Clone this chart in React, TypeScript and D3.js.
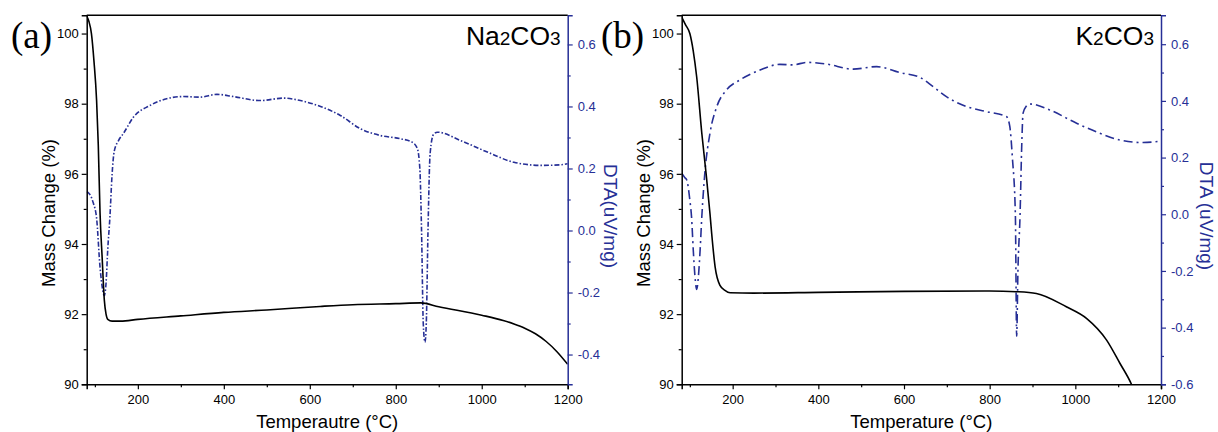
import React, { useRef, useEffect } from "react";
import * as d3 from "d3";

const WIDTH = 1218;
const HEIGHT = 432;

// x ticks (temperature, °C)
const tempTicks = [200, 400, 600, 800, 1000, 1200];
const tempMinor = [100, 300, 500, 700, 900, 1100];
const massTicks = [90, 92, 94, 96, 98, 100];
const massMinor = [91, 93, 95, 97, 99];

// (a) Na2CO3 - mass change
const naMassT = [81, 86, 92, 98, 104, 108, 112, 117, 122, 126, 130, 140, 160, 200, 300, 400, 500, 624, 700, 800, 858, 900, 1000, 1050, 1075, 1100, 1125, 1150, 1175, 1200];
const naMass = [100.5, 100.35, 100.0, 99.2, 98.1, 96.8, 94.9, 93.6, 92.4, 92.0, 91.85, 91.8, 91.8, 91.85, 91.95, 92.05, 92.12, 92.22, 92.27, 92.3, 92.32, 92.21, 91.97, 91.82, 91.72, 91.6, 91.44, 91.22, 90.93, 90.57];

// (a) Na2CO3 - DTA
const naDtaT = [81, 86, 91, 96, 104, 112, 118, 122, 126, 130, 135, 140, 145, 155, 166, 190, 228, 267, 306, 345, 384, 422, 485, 539, 578, 625, 671, 718, 765, 811, 838, 850, 856, 860, 864, 868, 871, 875, 880, 888, 897, 951, 1013, 1075, 1138, 1184, 1200];
const naDta = [0.125, 0.12, 0.11, 0.09, 0.04, -0.118, -0.19, -0.21, -0.17, -0.06, 0.043, 0.18, 0.255, 0.29, 0.312, 0.366, 0.403, 0.425, 0.432, 0.43, 0.439, 0.432, 0.419, 0.427, 0.419, 0.4, 0.371, 0.328, 0.306, 0.296, 0.285, 0.265, 0.2, 0.0, -0.3, -0.36, -0.3, 0.0, 0.25, 0.31, 0.317, 0.29, 0.253, 0.22, 0.21, 0.212, 0.215];
const naDtaTicks = [-0.4, -0.2, 0.0, 0.2, 0.4, 0.6];
const naDtaMinor = [-0.3, -0.1, 0.1, 0.3, 0.5];

// (b) K2CO3 - mass change
const kMassT = [81, 90, 100, 108, 116, 128, 138, 147, 151, 159, 170, 182, 194, 250, 400, 600, 800, 863, 909, 979, 1026, 1073, 1104, 1131, 1150];
const kMass = [100.47, 100.25, 100.0, 99.5, 98.76, 97.15, 96.0, 94.87, 94.3, 93.35, 92.83, 92.68, 92.61, 92.6, 92.62, 92.65, 92.66, 92.64, 92.59, 92.21, 91.88, 91.26, 90.6, 90.0, 89.4];

// (b) K2CO3 - DTA
const kDtaT = [81, 88, 93, 100, 104, 108, 112, 116, 120, 124, 128, 135, 147, 163, 186, 217, 264, 310, 341, 373, 419, 481, 536, 590, 637, 668, 699, 746, 793, 839, 847, 853, 860, 863, 866, 871, 875, 878, 885, 894, 940, 1003, 1057, 1104, 1158, 1200];
const kDta = [0.145, 0.13, 0.12, 0.05, -0.01, -0.126, -0.22, -0.265, -0.22, -0.126, -0.008, 0.145, 0.286, 0.38, 0.439, 0.474, 0.509, 0.529, 0.527, 0.536, 0.53, 0.512, 0.521, 0.5, 0.483, 0.45, 0.415, 0.38, 0.362, 0.345, 0.31, 0.2, 0.0, -0.43, -0.2, 0.0, 0.25, 0.357, 0.38, 0.389, 0.368, 0.321, 0.286, 0.262, 0.253, 0.258];
const kDtaTicks = [-0.6, -0.4, -0.2, 0.0, 0.2, 0.4, 0.6];
const kDtaMinor = [-0.5, -0.3, -0.1, 0.1, 0.3, 0.5];

const BLUE = "#262f96";
const FONT = "Arial, 'Liberation Sans', sans-serif";

const panels = [
  {
    id: "a", tag: "(a)", formula: ["Na", "2", "CO", "3"], xLabel: "Temperautre (°C)", dtaLabel: "DTA(uV/mg)",
    left: 86.7, right: 567.7, massT: naMassT, mass: naMass, dtaT: naDtaT, dta: naDta,
    dtaDomain: [-0.496, 0.694], dtaTicks: naDtaTicks, dtaMinor: naDtaMinor, dash: "5 2 1.5 2",
    tagX: 11, dtaLabelX: 604,
  },
  {
    id: "b", tag: "(b)", formula: ["K", "2", "CO", "3"], xLabel: "Temperature (°C)", dtaLabel: "DTA (uV/mg)",
    left: 681.7, right: 1161, massT: kMassT, mass: kMass, dtaT: kDtaT, dta: kDta,
    dtaDomain: [-0.6, 0.702], dtaTicks: kDtaTicks, dtaMinor: kDtaMinor, dash: "9 4 2 4",
    tagX: 601, dtaLabelX: 1200,
  },
];

const TOP = 15.3;
const BOTTOM = 384.3;

function Panel({ p }: { p: any }) {
  const gRef = useRef<SVGGElement>(null);

  useEffect(() => {
    const g = d3.select(gRef.current);
    g.selectAll("*").remove();

    const x = d3.scaleLinear().domain([81, 1200]).range([p.left, p.right]);
    const yM = d3.scaleLinear().domain([90, 100.52]).range([BOTTOM, TOP]);
    const yD = d3.scaleLinear().domain(p.dtaDomain).range([BOTTOM, TOP]);

    // clip for data
    g.append("clipPath").attr("id", "clip-" + p.id)
      .append("rect").attr("x", p.left).attr("y", TOP).attr("width", p.right - p.left).attr("height", BOTTOM - TOP);

    const content = g.append("g").attr("clip-path", `url(#clip-${p.id})`);

    const dtaLine = d3.line<number>()
      .x((d, i) => x(p.dtaT[i]))
      .y((d) => yD(d))
      .curve(d3.curveMonotoneX);
    content.append("path").datum(p.dta)
      .attr("d", dtaLine).attr("fill", "none").attr("stroke", BLUE)
      .attr("stroke-width", 1.6).attr("stroke-dasharray", p.dash);

    const massLine = d3.line<number>()
      .x((d, i) => x(p.massT[i]))
      .y((d) => yM(d))
      .curve(d3.curveMonotoneX);
    content.append("path").datum(p.mass)
      .attr("d", massLine).attr("fill", "none").attr("stroke", "#000").attr("stroke-width", 1.6);

    const styleAxis = (sel: any, color: string) => {
      sel.selectAll("path.domain").attr("stroke", color).attr("stroke-width", 1.5);
      sel.selectAll(".tick line").attr("stroke", color).attr("stroke-width", 1.2);
      sel.selectAll(".tick text").attr("fill", color).attr("font-size", 13).attr("font-family", FONT);
    };

    // bottom axis
    const xa = g.append("g").attr("transform", `translate(0,${BOTTOM})`)
      .call(d3.axisBottom(x).tickValues(tempTicks).tickSize(5).tickPadding(5).tickFormat(d3.format("d")));
    styleAxis(xa, "#000");
    const xm = g.append("g").attr("transform", `translate(0,${BOTTOM})`)
      .call(d3.axisBottom(x).tickValues(tempMinor).tickSize(3).tickFormat(() => ""));
    xm.select(".domain").remove();
    xm.selectAll(".tick line").attr("stroke", "#000").attr("stroke-width", 1.2);

    // left axis
    const ya = g.append("g").attr("transform", `translate(${p.left},0)`)
      .call(d3.axisLeft(yM).tickValues(massTicks).tickSize(5).tickPadding(3).tickFormat(d3.format("d")));
    styleAxis(ya, "#000");
    const ym = g.append("g").attr("transform", `translate(${p.left},0)`)
      .call(d3.axisLeft(yM).tickValues(massMinor).tickSize(3).tickFormat(() => ""));
    ym.select(".domain").remove();
    ym.selectAll(".tick line").attr("stroke", "#000").attr("stroke-width", 1.2);

    // right axis (DTA)
    const ra = g.append("g").attr("transform", `translate(${p.right},0)`)
      .call(d3.axisRight(yD).tickValues(p.dtaTicks).tickSize(5).tickPadding(5).tickFormat(d3.format(".1f")));
    styleAxis(ra, BLUE);
    ra.selectAll(".tick text").text((d: any) => d3.format(".1f")(d).replace("−", "-"));
    const rm = g.append("g").attr("transform", `translate(${p.right},0)`)
      .call(d3.axisRight(yD).tickValues(p.dtaMinor).tickSize(3).tickFormat(() => ""));
    rm.select(".domain").remove();
    rm.selectAll(".tick line").attr("stroke", BLUE).attr("stroke-width", 1.2);

    // top border
    g.append("line").attr("x1", p.left).attr("x2", p.right).attr("y1", TOP).attr("y2", TOP)
      .attr("stroke", "#000").attr("stroke-width", 1.5);
  }, [p]);

  const cx = (p.left + p.right) / 2;
  return (
    <g>
      <g ref={gRef} />
      <text x={p.tagX} y={48} fontFamily="'Liberation Serif', 'Times New Roman', serif" fontSize={37}>{p.tag}</text>
      <text x={p.right - 7} y={45} textAnchor="end" fontFamily={FONT} fontSize={26.5} fill="#000">
        <tspan>{p.formula[0]}</tspan>
        <tspan fontSize={19}>{p.formula[1]}</tspan>
        <tspan>{p.formula[2]}</tspan>
        <tspan fontSize={19}>{p.formula[3]}</tspan>
      </text>
      <text transform={`translate(${p.left - 32},${213}) rotate(-90)`} textAnchor="middle"
        fontFamily={FONT} fontSize={18.5}>Mass Change (%)</text>
      <text x={cx} y={428} textAnchor="middle" fontFamily={FONT} fontSize={18.5}>{p.xLabel}</text>
      <text transform={`translate(${p.dtaLabelX},${216}) rotate(90)`} textAnchor="middle"
        fontFamily={FONT} fontSize={19} fill={BLUE}>{p.dtaLabel}</text>
    </g>
  );
}

export default function App() {
  return (
    <svg width={WIDTH} height={HEIGHT} style={{ position: "absolute", left: 0, top: 0, background: "#fff" }}>
      <rect width={WIDTH} height={HEIGHT} fill="#fff" />
      {panels.map((p) => <Panel key={p.id} p={p} />)}
    </svg>
  );
}
